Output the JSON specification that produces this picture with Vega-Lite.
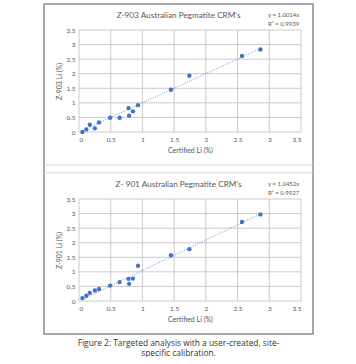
{
  "$schema": "https://vega.github.io/schema/vega-lite/v6.json",
  "padding": {"left": 43, "top": 4, "right": 0, "bottom": 0},
  "width": 269,
  "height": 330,
  "background": "white",
  "title": {
    "text": ["Figure 2: Targeted analysis with a user-created, site-", "specific calibration."],
    "orient": "bottom", "anchor": "middle", "font": "Open Sans", "fontSize": 8.4,
    "fontWeight": "normal", "color": "#333333", "offset": 5, "lineHeight": 9.5
  },
  "config": {
    "view": {"stroke": "#8c8c8c", "strokeWidth": 1.5},
    "axis": {
      "grid": false, "domain": false, "ticks": false,
      "labelFont": "Lato", "labelFontSize": 6.5, "labelColor": "#595959", "labelPadding": 4,
      "titleFont": "Lato", "titleFontSize": 7, "titleFontWeight": "normal", "titleColor": "#595959",
      "values": [0, 0.5, 1, 1.5, 2, 2.5, 3, 3.5], "format": "~g"
    },
    "text": {"font": "Lato", "color": "#595959"}
  },
  "datasets": {
    "crm": [
      {"cert": 0.053, "z903": 0.0, "z901": 0.10},
      {"cert": 0.116, "z903": 0.09, "z901": 0.18},
      {"cert": 0.17, "z903": 0.25, "z901": 0.28},
      {"cert": 0.25, "z903": 0.125, "z901": 0.36},
      {"cert": 0.316, "z903": 0.33, "z901": 0.41},
      {"cert": 0.49, "z903": 0.49, "z901": 0.53},
      {"cert": 0.64, "z903": 0.49, "z901": 0.65},
      {"cert": 0.78, "z903": 0.82, "z901": 0.76},
      {"cert": 0.79, "z903": 0.56, "z901": 0.59},
      {"cert": 0.85, "z903": 0.71, "z901": 0.77},
      {"cert": 0.93, "z903": 0.92, "z901": 1.21},
      {"cert": 1.45, "z903": 1.45, "z901": 1.57},
      {"cert": 1.74, "z903": 1.93, "z901": 1.78},
      {"cert": 2.57, "z903": 2.61, "z901": 2.71},
      {"cert": 2.86, "z903": 2.83, "z901": 2.97}
    ],
    "trend": [
      {"cert": 0.053, "f903": 0.053, "f901": 0.055},
      {"cert": 2.86, "f903": 2.864, "f901": 2.989}
    ],
    "gridvals": [
      {"v": 0, "lo": 0, "hi": 3.5}, {"v": 0.5, "lo": 0, "hi": 3.5}, {"v": 1, "lo": 0, "hi": 3.5},
      {"v": 1.5, "lo": 0, "hi": 3.5}, {"v": 2, "lo": 0, "hi": 3.5}, {"v": 2.5, "lo": 0, "hi": 3.5},
      {"v": 3, "lo": 0, "hi": 3.5}, {"v": 3.5, "lo": 0, "hi": 3.5}
    ],
    "notes": [
      {"panel": "903", "title": "Z-903 Australian Pegmatite CRM's", "eq": "y = 1.0014x\nR² = 0.9939"},
      {"panel": "901", "title": "Z- 901 Australian Pegmatite CRM's", "eq": "y = 1.0452x\nR² = 0.9927"}
    ]
  },
  "layer": [
    {
      "layer": [
        {
          "data": {"name": "gridvals"},
          "mark": {"type": "rule", "color": "#cacaca", "strokeWidth": 1},
          "encoding": {
            "x": {"field": "v", "type": "quantitative",
              "scale": {"domain": [0, 3.5], "range": [35, 257], "nice": false, "zero": false},
              "axis": null},
            "y": {"field": "lo", "type": "quantitative",
              "scale": {"domain": [0, 3.5], "range": [128, 26], "nice": false, "zero": false},
              "axis": null},
            "y2": {"field": "hi"}
          }
        },
        {
          "data": {"name": "gridvals"},
          "mark": {"type": "rule", "color": "#cacaca", "strokeWidth": 1},
          "encoding": {
            "y": {"field": "v", "type": "quantitative", "axis": null},
            "x": {"field": "lo", "type": "quantitative", "axis": null},
            "x2": {"field": "hi"}
          }
        },
        {
          "data": {"name": "trend"},
          "mark": {"type": "line", "color": "#6a95dc", "strokeDash": [1, 1.5], "strokeWidth": 1},
          "encoding": {
            "x": {"field": "cert", "type": "quantitative", "axis": null},
            "y": {"field": "f903", "type": "quantitative", "axis": null}
          }
        },
        {
          "data": {"name": "crm"},
          "mark": {"type": "circle", "size": 19, "color": "#4472C4", "opacity": 1},
          "encoding": {
            "x": {"field": "cert", "type": "quantitative",
              "axis": {"title": "Certified Li (%)", "orient": "bottom", "offset": -202, "titlePadding": 4}},
            "y": {"field": "z903", "type": "quantitative",
              "axis": {"title": "Z-903 Li (%)", "orient": "left", "offset": -35, "titlePadding": 3}}
          }
        },
        {
          "data": {"name": "notes"},
          "transform": [{"filter": "datum.panel === '903'"}],
          "mark": {"type": "text", "fontSize": 8.2, "align": "center", "baseline": "middle"},
          "encoding": {
            "x": {"datum": 1.57, "type": "quantitative", "axis": null},
            "y": {"datum": 3.98, "type": "quantitative", "axis": null},
            "text": {"field": "title"}
          }
        },
        {
          "data": {"name": "notes"},
          "transform": [{"filter": "datum.panel === '903'"}],
          "mark": {"type": "text", "fontSize": 6, "align": "left", "baseline": "top", "lineBreak": "\n", "lineHeight": 9},
          "encoding": {
            "x": {"datum": 2.98, "type": "quantitative", "axis": null},
            "y": {"datum": 4.12, "type": "quantitative", "axis": null},
            "text": {"field": "eq"}
          }
        },
        {
          "data": {"name": "notes"},
          "transform": [{"filter": "datum.panel === '903'"}],
          "mark": {"type": "rule", "color": "#d9d9d9", "strokeWidth": 1},
          "encoding": {
            "y": {"datum": -1.13, "type": "quantitative", "axis": null}
          }
        }
      ],
      "resolve": {"axis": {"x": "independent", "y": "independent"}}
    },
    {
      "layer": [
        {
          "data": {"name": "gridvals"},
          "mark": {"type": "rule", "color": "#cacaca", "strokeWidth": 1},
          "encoding": {
            "x": {"field": "v", "type": "quantitative",
              "scale": {"domain": [0, 3.5], "range": [35, 257], "nice": false, "zero": false},
              "axis": null},
            "y": {"field": "lo", "type": "quantitative",
              "scale": {"domain": [0, 3.5], "range": [297, 195], "nice": false, "zero": false},
              "axis": null},
            "y2": {"field": "hi"}
          }
        },
        {
          "data": {"name": "gridvals"},
          "mark": {"type": "rule", "color": "#cacaca", "strokeWidth": 1},
          "encoding": {
            "y": {"field": "v", "type": "quantitative", "axis": null},
            "x": {"field": "lo", "type": "quantitative", "axis": null},
            "x2": {"field": "hi"}
          }
        },
        {
          "data": {"name": "trend"},
          "mark": {"type": "line", "color": "#6a95dc", "strokeDash": [1, 1.5], "strokeWidth": 1},
          "encoding": {
            "x": {"field": "cert", "type": "quantitative", "axis": null},
            "y": {"field": "f901", "type": "quantitative", "axis": null}
          }
        },
        {
          "data": {"name": "crm"},
          "mark": {"type": "circle", "size": 19, "color": "#4472C4", "opacity": 1},
          "encoding": {
            "x": {"field": "cert", "type": "quantitative",
              "axis": {"title": "Certified Li (%)", "orient": "bottom", "offset": -33, "titlePadding": 4}},
            "y": {"field": "z901", "type": "quantitative",
              "axis": {"title": "Z-901 Li (%)", "orient": "left", "offset": -35, "titlePadding": 3}}
          }
        },
        {
          "data": {"name": "notes"},
          "transform": [{"filter": "datum.panel === '901'"}],
          "mark": {"type": "text", "fontSize": 8.2, "align": "center", "baseline": "middle"},
          "encoding": {
            "x": {"datum": 1.57, "type": "quantitative", "axis": null},
            "y": {"datum": 3.99, "type": "quantitative", "axis": null},
            "text": {"field": "title"}
          }
        },
        {
          "data": {"name": "notes"},
          "transform": [{"filter": "datum.panel === '901'"}],
          "mark": {"type": "text", "fontSize": 6, "align": "left", "baseline": "top", "lineBreak": "\n", "lineHeight": 9},
          "encoding": {
            "x": {"datum": 2.98, "type": "quantitative", "axis": null},
            "y": {"datum": 4.13, "type": "quantitative", "axis": null},
            "text": {"field": "eq"}
          }
        },
        {
          "data": {"name": "notes"},
          "transform": [{"filter": "datum.panel === '901'"}],
          "mark": {"type": "rule", "color": "#d9d9d9", "strokeWidth": 1},
          "encoding": {
            "y": {"datum": 4.40, "type": "quantitative", "axis": null}
          }
        }
      ],
      "resolve": {"axis": {"x": "independent", "y": "independent"}}
    }
  ],
  "resolve": {
    "scale": {"x": "independent", "y": "independent"},
    "axis": {"x": "independent", "y": "independent"}
  }
}
